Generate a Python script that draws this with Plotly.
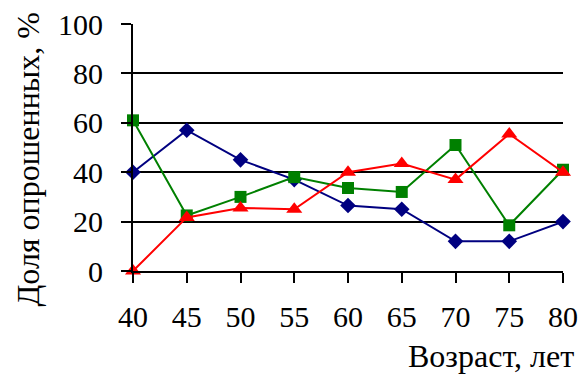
import plotly.graph_objects as go

ages = [40, 45, 50, 55, 60, 65, 70, 75, 80]
blue_vals = [40, 57, 45, 37, 26.5, 25, 12, 12, 20]
green_vals = [61, 22.5, 30, 38, 33.6, 32, 51, 18.5, 41]
red_vals = [0, 21.7, 25.5, 25, 40, 43.5, 37, 55.5, 40]
y_ticks = [0, 20, 40, 60, 80, 100]
x_title = "Возраст, лет"
y_title = "Доля опрошенных, %"

FONT = "Liberation Serif"

fig = go.Figure()
fig.add_trace(go.Scatter(x=ages, y=blue_vals, mode="lines+markers",
                         line=dict(color="#000080", width=2),
                         marker=dict(symbol="diamond", size=12, color="#000080"),
                         cliponaxis=False, showlegend=False))
fig.add_trace(go.Scatter(x=ages, y=green_vals, mode="lines+markers",
                         line=dict(color="#008000", width=2),
                         marker=dict(symbol="square", size=12, color="#008000"),
                         cliponaxis=False, showlegend=False))
fig.add_trace(go.Scatter(x=ages, y=red_vals, mode="lines+markers",
                         line=dict(color="#FF0000", width=2),
                         marker=dict(symbol="triangle-up", size=14, color="#FF0000"),
                         cliponaxis=False, showlegend=False))

fig.update_layout(
    width=579, height=376,
    margin=dict(l=133, r=16, t=24, b=105, autoexpand=False),
    paper_bgcolor="white", plot_bgcolor="white",
    font=dict(family=FONT, size=30, color="black"),
    xaxis=dict(range=[40, 80], tickvals=ages, ticks="outside", ticklen=10,
               tickwidth=2, tickcolor="black", showline=True, linecolor="black",
               linewidth=2, showgrid=False, zeroline=False, automargin=False,
               ticklabelstandoff=8, tickfont=dict(size=30)),
    yaxis=dict(range=[0, 100], tickvals=y_ticks, ticks="outside", ticklen=10,
               tickwidth=2, tickcolor="black", showline=True, linecolor="black",
               linewidth=2, showgrid=True, gridcolor="black", gridwidth=2,
               zeroline=False, automargin=False,
               ticklabelstandoff=12, tickfont=dict(size=30)),
    annotations=[
        dict(text=x_title, xref="paper", yref="paper", x=1.03, y=-0.265,
             xanchor="right", yanchor="top", showarrow=False,
             font=dict(size=32)),
        dict(text=y_title, xref="paper", yref="paper", x=-0.245, y=0.45,
             xanchor="center", yanchor="middle", textangle=-90, showarrow=False,
             font=dict(size=32)),
    ],
)

fig.write_html("out.html", config={"displayModeBar": False},
               post_script="document.body.style.margin='0';document.body.style.overflow='hidden';")
